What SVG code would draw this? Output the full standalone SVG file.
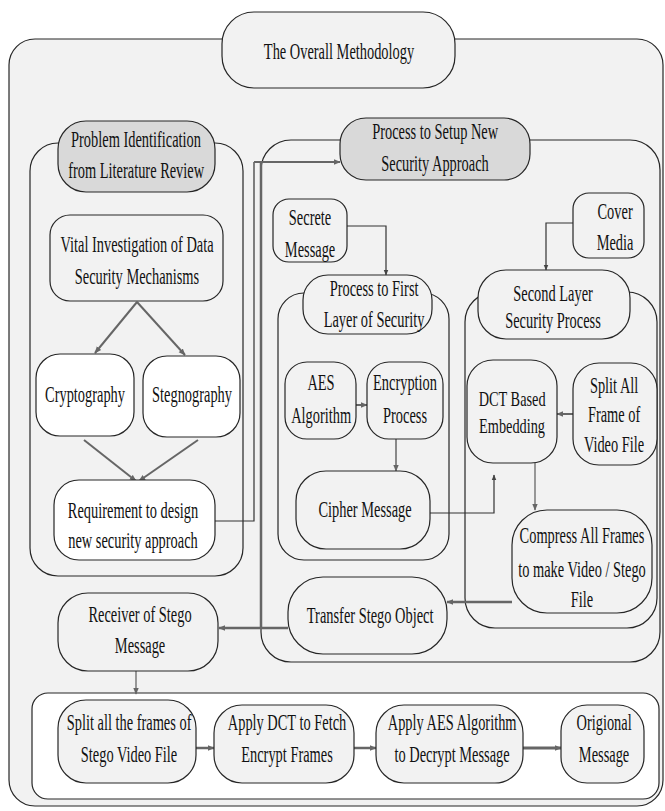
<svg xmlns="http://www.w3.org/2000/svg" width="665" height="811" viewBox="0 0 665 811">
<defs>
<style>
.t{font-family:"Liberation Serif","Times New Roman",serif;font-size:24px;text-anchor:middle;fill:#111;transform-box:fill-box;transform-origin:center;transform:scaleX(0.6)}
.s{font-size:22px;transform:scaleX(0.65)}
.n{fill:#f2f2f2;stroke:#262626;stroke-width:1.2}
.w{fill:#ffffff;stroke:#262626;stroke-width:1.2}
.h{fill:#d9d9d9;stroke:#262626;stroke-width:1.2}
.cont{fill:#f2f2f2;stroke:#262626;stroke-width:1.2}
.g{fill:none;stroke:#666666}
.d{fill:none;stroke:#333333;stroke-width:1.2}
</style>
<marker id="ag" viewBox="0 0 10 10" refX="9" refY="5" markerWidth="7" markerHeight="7" markerUnits="userSpaceOnUse" orient="auto"><path d="M0,1 L10,5 L0,9 z" fill="#666666"/></marker>
<marker id="ad" viewBox="0 0 10 10" refX="9" refY="5" markerWidth="6" markerHeight="6" markerUnits="userSpaceOnUse" orient="auto"><path d="M0,1 L10,5 L0,9 z" fill="#444444"/></marker>
</defs>
<rect width="665" height="811" fill="#ffffff"/>
<g id="overall">
<rect class="cont" x="9" y="39" width="654" height="767" rx="26" stroke="#404040" stroke-width="1.5"/>
<rect class="n" x="222" y="12" width="233" height="76" rx="32"/>
<text class="t" x="339" y="59">The Overall Methodology</text>
</g>
<g id="problem-identification">
<rect class="cont" x="30" y="143" width="213" height="433" rx="28"/>
<rect class="h" x="58" y="121" width="157" height="71" rx="28"/>
<text class="t" x="136" y="147">Problem Identification</text>
<text class="t" x="136" y="178">from Literature Review</text>
</g>
<g id="process-setup">
<rect class="cont" x="261" y="140" width="399" height="522" rx="30"/>
<rect class="h" x="340" y="118" width="190" height="62" rx="26"/>
<text class="t" x="435" y="139">Process to Setup New</text>
<text class="t" x="435" y="171">Security Approach</text>
</g>
<g id="first-layer">
<rect class="cont" x="278" y="293" width="171" height="267" rx="26"/>
<rect class="n" x="303" y="275" width="129" height="59" rx="25"/>
<text class="t" x="374" y="296">Process to First</text>
<text class="t" x="374" y="327">Layer of Security</text>
</g>
<g id="second-layer">
<rect class="cont" x="465" y="292" width="192" height="336" rx="30"/>
<rect class="n" x="478" y="270" width="152" height="69" rx="28"/>
<text class="t" x="553" y="301">Second Layer</text>
<text class="t" x="553" y="328">Security Process</text>
</g>
<g id="receiver-panel">
<rect class="w" x="32" y="693" width="627" height="106" rx="16"/>
</g>
<g id="connectors">
<line class="g" stroke-width="2" x1="137" y1="302" x2="95" y2="353" marker-end="url(#ag)"/>
<line class="g" stroke-width="2" x1="137" y1="302" x2="185" y2="355" marker-end="url(#ag)"/>
<line class="g" stroke-width="2" x1="84" y1="440" x2="136" y2="481" marker-end="url(#ag)"/>
<line class="g" stroke-width="2" x1="198" y1="440" x2="139" y2="481" marker-end="url(#ag)"/>
<polyline class="d" points="215,521 254,521 254,162"/>
<line class="g" stroke-width="2" x1="254" y1="162" x2="340" y2="162" marker-end="url(#ag)"/>
<polyline class="g" stroke-width="2.5" points="261,162 261,628"/>
<polyline class="d" points="347,226 386,226 386,275" marker-end="url(#ad)"/>
<polyline class="d" points="573,223 546,223 546,270" marker-end="url(#ad)"/>
<line class="g" stroke-width="2" x1="356" y1="405" x2="367" y2="405" marker-end="url(#ag)"/>
<line class="g" stroke-width="1.5" x1="396" y1="439" x2="396" y2="471" marker-end="url(#ag)"/>
<polyline class="d" points="430,513 494,513 494,475" marker-end="url(#ad)"/>
<line class="g" stroke-width="2" x1="573" y1="414" x2="557" y2="414" marker-end="url(#ag)"/>
<line class="g" stroke-width="1.3" x1="535" y1="463" x2="535" y2="510" marker-end="url(#ag)"/>
<line class="g" stroke-width="2.5" x1="512" y1="602" x2="447" y2="602" marker-end="url(#ag)"/>
<line class="g" stroke-width="2.5" x1="288" y1="628" x2="219" y2="628" marker-end="url(#ag)"/>
<line class="g" stroke-width="1.3" x1="136" y1="671" x2="136" y2="694" marker-end="url(#ag)"/>
<line class="g" stroke-width="2.5" x1="196" y1="748" x2="214" y2="748" marker-end="url(#ag)"/>
<line class="g" stroke-width="2.5" x1="354" y1="748" x2="376" y2="748" marker-end="url(#ag)"/>
<line class="g" stroke-width="3" x1="523" y1="748" x2="561" y2="748" marker-end="url(#ag)"/>
</g>
<g id="vital">
<rect class="n" x="50" y="215" width="173" height="86" rx="20"/>
<text class="t" x="137" y="252">Vital Investigation of Data</text>
<text class="t" x="137" y="284">Security Mechanisms</text>
</g>
<g id="cryptography">
<rect class="w" x="36" y="354" width="98" height="82" rx="24"/>
<text class="t" x="85" y="402">Cryptography</text>
</g>
<g id="stegnography">
<rect class="w" x="143" y="356" width="97" height="81" rx="24"/>
<text class="t" x="192" y="402">Stegnography</text>
</g>
<g id="requirement">
<rect class="w" x="54" y="480" width="161" height="80" rx="25"/>
<text class="t" x="133" y="518">Requirement to design</text>
<text class="t" x="133" y="548">new security approach</text>
</g>
<g id="secrete">
<rect class="n" x="273" y="199" width="74" height="63" rx="16"/>
<text class="t" x="310" y="225">Secrete</text>
<text class="t" x="310" y="257">Message</text>
</g>
<g id="cover">
<rect class="n" x="573" y="193" width="71" height="65" rx="16"/>
<text class="t" x="615" y="219">Cover</text>
<text class="t" x="615" y="250">Media</text>
</g>
<g id="aes">
<rect class="n" x="285" y="362" width="71" height="77" rx="22"/>
<text class="t" x="321" y="390">AES</text>
<text class="t" x="321" y="423">Algorithm</text>
</g>
<g id="encryption">
<rect class="n" x="367" y="362" width="76" height="77" rx="22"/>
<text class="t" x="405" y="390">Encryption</text>
<text class="t" x="405" y="423">Process</text>
</g>
<g id="cipher">
<rect class="n" x="296" y="471" width="134" height="78" rx="30"/>
<text class="t" x="365" y="517">Cipher Message</text>
</g>
<g id="dct">
<rect class="n" x="467" y="360" width="90" height="103" rx="26"/>
<text class="t s" x="512" y="406">DCT Based</text>
<text class="t s" x="512" y="433">Embedding</text>
</g>
<g id="split-frames">
<rect class="n" x="573" y="363" width="84" height="102" rx="26"/>
<text class="t" x="614" y="393">Split All</text>
<text class="t" x="614" y="422">Frame of</text>
<text class="t" x="614" y="452">Video File</text>
</g>
<g id="compress">
<rect class="n" x="512" y="510" width="140" height="103" rx="35"/>
<text class="t" x="582" y="543">Compress All Frames</text>
<text class="t" x="582" y="577">to make Video / Stego</text>
<text class="t" x="582" y="607">File</text>
</g>
<g id="transfer">
<rect class="n" x="288" y="577" width="159" height="77" rx="35"/>
<text class="t" x="370" y="623">Transfer Stego Object</text>
</g>
<g id="receiver">
<rect class="n" x="58" y="593" width="160" height="78" rx="30"/>
<text class="t" x="140" y="622">Receiver of Stego</text>
<text class="t" x="140" y="653">Message</text>
</g>
<g id="split-stego">
<rect class="n" x="58" y="700" width="138" height="83" rx="28"/>
<text class="t" x="129" y="730">Split all the frames of</text>
<text class="t" x="129" y="762">Stego Video File</text>
</g>
<g id="apply-dct">
<rect class="n" x="214" y="705" width="140" height="78" rx="28"/>
<text class="t" x="287" y="730">Apply DCT to Fetch</text>
<text class="t" x="287" y="762">Encrypt Frames</text>
</g>
<g id="apply-aes">
<rect class="n" x="376" y="705" width="147" height="78" rx="28"/>
<text class="t" x="452" y="730">Apply AES Algorithm</text>
<text class="t" x="452" y="762">to Decrypt Message</text>
</g>
<g id="original">
<rect class="n" x="561" y="705" width="83" height="78" rx="26"/>
<text class="t" x="604" y="730">Origional</text>
<text class="t" x="604" y="762">Message</text>
</g>
</svg>
